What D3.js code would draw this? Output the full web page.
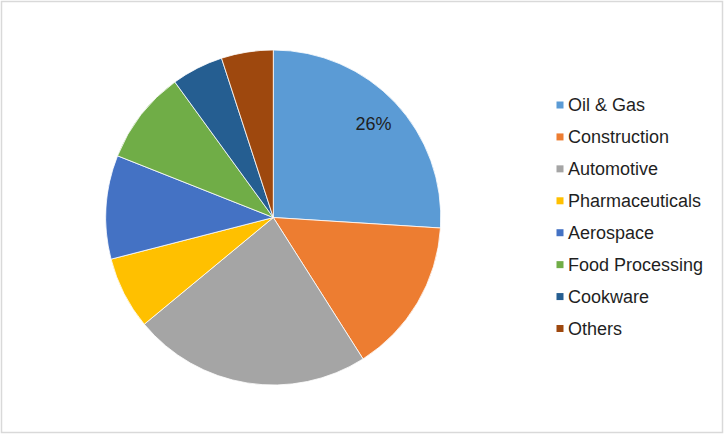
<!DOCTYPE html>
<html>
<head>
<meta charset="utf-8">
<script src="https://cdn.jsdelivr.net/npm/d3@7"></script>
<style>
html,body{margin:0;padding:0;background:#fff;}
svg{display:block;font-family:"Liberation Sans",Arial,sans-serif;}
</style>
</head>
<body>
<svg id="chart" width="725" height="435"></svg>
<script>
const categories = ["Oil & Gas","Construction","Automotive","Pharmaceuticals","Aerospace","Food Processing","Cookware","Others"];
const shares = [26,15,23,7,10,9,5,5];
const colors = ["#5B9BD5","#ED7D31","#A5A5A5","#FFC000","#4472C4","#70AD47","#255E91","#9E480E"];
const shownLabels = ["26%","","","","","","",""];

const svg = d3.select("#chart");
svg.append("rect").attr("x",1.5).attr("y",1.5).attr("width",721).attr("height",431)
  .attr("fill","#fff").attr("stroke","#d9d9d9").attr("stroke-width",1.5);

const cx = 273.3, cy = 217.5, R = 167.5;
const data = categories.map((c,i)=>({cat:c, v:shares[i], color:colors[i], label:shownLabels[i]}));
const pie = d3.pie().value(d=>d.v).sort(null);
const arcs = pie(data);
const arc = d3.arc().innerRadius(0).outerRadius(R);
const labelArc = d3.arc().innerRadius(R*0.82).outerRadius(R*0.82);

const g = svg.append("g").attr("transform",`translate(${cx},${cy})`);
g.selectAll("path").data(arcs).join("path")
  .attr("d",arc).attr("fill",d=>d.data.color)
  .attr("stroke","#fff").attr("stroke-width",0.8);

g.selectAll("text").data(arcs.filter(d=>d.data.label)).join("text")
  .attr("transform",d=>{const c=labelArc.centroid(d);return `translate(${c[0]},${c[1]})`;})
  .attr("text-anchor","middle").attr("dy","0.35em")
  .attr("font-size",18).attr("fill","#1f1f1f")
  .text(d=>d.data.label);

const legendY = d3.scalePoint().domain(categories).range([105,328.5]);
const lg = svg.append("g");
const items = lg.selectAll("g").data(data).join("g")
  .attr("transform",d=>`translate(556.5,${legendY(d.cat)})`);
items.append("rect").attr("x",0).attr("y",-3.5).attr("width",7).attr("height",7).attr("fill",d=>d.color);
items.append("text").attr("x",11.5).attr("y",0).attr("dy","0.36em")
  .attr("font-size",18).attr("fill","#1f1f1f").text(d=>d.cat);
</script>
</body>
</html>
